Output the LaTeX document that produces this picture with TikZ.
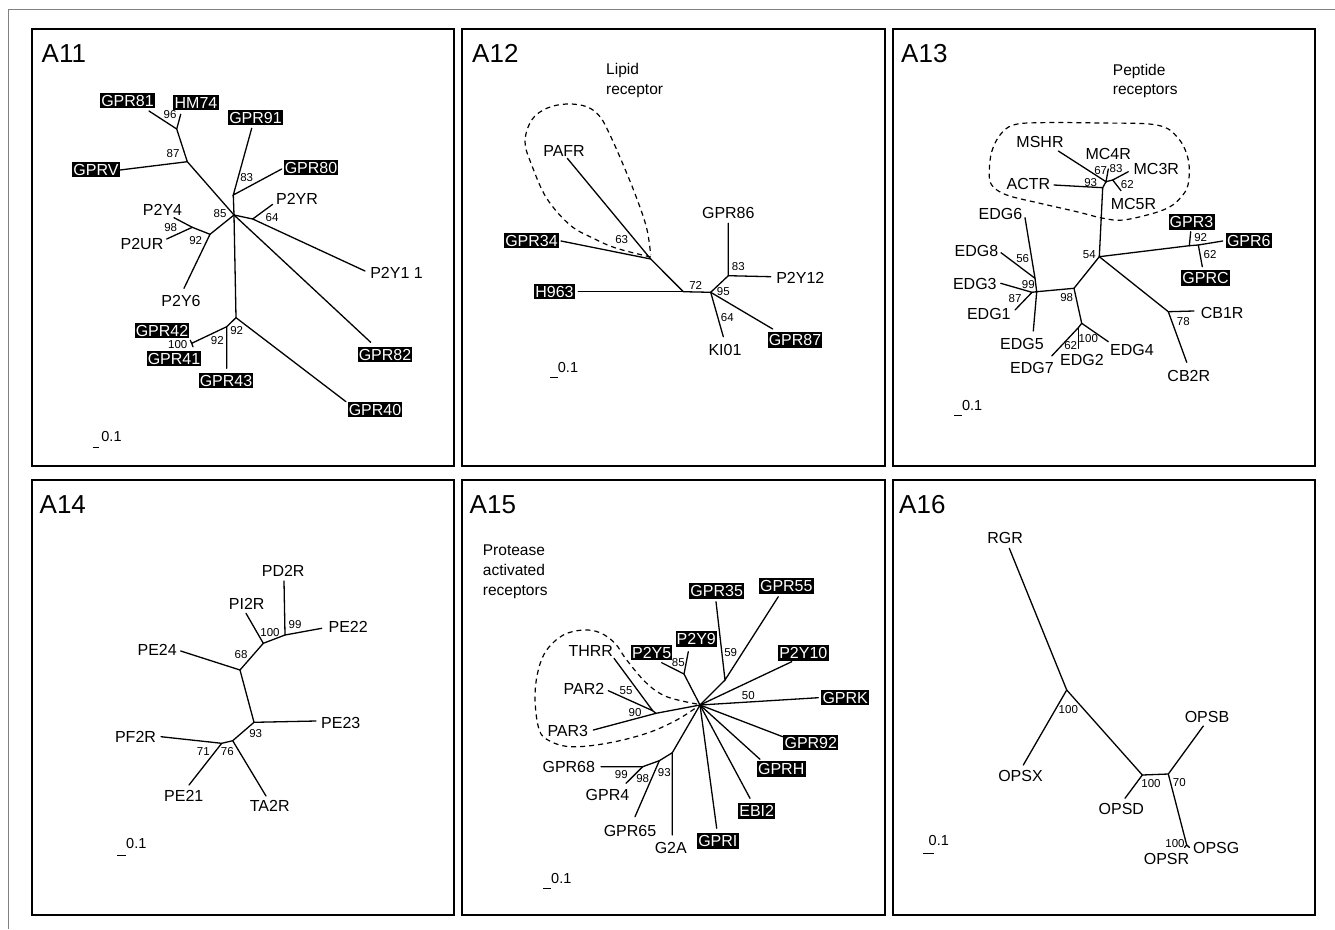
\documentclass[tikz,border=0pt]{standalone}
\usepackage{fontspec}
\setmainfont{Liberation Sans}
\tikzset{
  branch/.style={line width=1.3pt, line cap=round},
  leaf/.style={font=\fontsize{16}{18}\selectfont, inner sep=0pt},
  hilite/.style={font=\fontsize{16}{18}\selectfont, fill=black, text=white, inner xsep=1.2pt, inner ysep=0pt, minimum height=15.5pt},
  boot/.style={font=\fontsize{11.5}{13}\selectfont, inner sep=0pt},
  panel/.style={line width=1.8pt},
  panelname/.style={font=\fontsize{26}{30}\selectfont, anchor=base west, inner sep=0pt},
  group/.style={line width=1.2pt, dash pattern=on 5pt off 4pt},
  grouplabel/.style={font=\fontsize{15.5}{17}\selectfont, anchor=base west, inner sep=0pt, align=left},
  scalebar/.style={line width=1.3pt},
  scalelabel/.style={font=\fontsize{14.5}{16}\selectfont, inner sep=0pt}
}

\begin{document}
\begin{tikzpicture}[x=1pt,y=-1pt]
  \useasboundingbox (0,0) rectangle (1335,929);

  % Draw the outer frame and the six panels
  \draw[gray, line width=1.2pt] (1335,9.3) -- (8.7,9.3) -- (8.7,929);
  \draw[panel] (32,29) rectangle (454,466);
  \draw[panel] (462,29) rectangle (885,466);
  \draw[panel] (893,29) rectangle (1315,466);
  \draw[panel] (32,480) rectangle (454,915);
  \draw[panel] (462,480) rectangle (885,915);
  \draw[panel] (893,480) rectangle (1315,915);

  \node[panelname] (A11) at (41.5,62) {A11};
  \node[panelname] (A12) at (472,62) {A12};
  \node[panelname] (A13) at (901,62) {A13};
  \node[panelname] (A14) at (39.5,513.5) {A14};
  \node[panelname] (A15) at (469.5,513.5) {A15};
  \node[panelname] (A16) at (899,513.5) {A16};

  % ---------------- A11 ----------------
  \coordinate (a11hub) at (234,215);
  \coordinate (a11n87) at (187.3,161.7);
  \coordinate (a11n96) at (176.7,129);
  \coordinate (a11n83) at (233.3,195);
  \coordinate (a11n64) at (252.7,219);
  \coordinate (a11n92a) at (210,234.3);
  \coordinate (a11n98) at (192.3,227.3);
  \coordinate (a11n92b) at (236,317.7);
  \coordinate (a11n92c) at (226.7,326.7);
  \coordinate (a11n100) at (191.7,343.3);
  \coordinate (tGPRV) at (120,170);
  \coordinate (tGPR81) at (149,111);
  \coordinate (tHM74) at (180.7,114.3);
  \coordinate (tGPR91) at (251.7,128.3);
  \coordinate (tGPR80) at (281.7,169);
  \coordinate (tP2YR) at (272.7,204.3);
  \coordinate (tP2Y11) at (365,271);
  \coordinate (tGPR82) at (370.7,342.3);
  \coordinate (tP2Y6) at (184,288.3);
  \coordinate (tP2Y4) at (174,217.7);
  \coordinate (tP2UR) at (166.7,239);
  \coordinate (tGPR40) at (346,401.7);
  \coordinate (tGPR43) at (226.7,368.3);
  \coordinate (tGPR42) at (190.3,340.3);
  \coordinate (tGPR41) at (193,346.8);

  \draw[branch] (tGPRV) -- (a11n87) -- (a11hub);
  \draw[branch] (a11n87) -- (a11n96) -- (tGPR81);
  \draw[branch] (a11n96) -- (tHM74);
  \draw[branch] (tGPR91) -- (a11n83) -- (tGPR80);
  \draw[branch] (a11n83) -- (a11hub) -- (a11n64) -- (tP2YR);
  \draw[branch] (a11n64) -- (tP2Y11);
  \draw[branch] (a11hub) -- (tGPR82);
  \draw[branch] (a11hub) -- (a11n92a) -- (tP2Y6);
  \draw[branch] (a11n92a) -- (a11n98) -- (tP2Y4);
  \draw[branch] (a11n98) -- (tP2UR);
  \draw[branch] (a11hub) -- (a11n92b) -- (tGPR40);
  \draw[branch] (a11n92b) -- (a11n92c) -- (tGPR43);
  \draw[branch] (a11n92c) -- (a11n100) -- (tGPR42);
  \draw[branch] (a11n100) -- (tGPR41);

  \node[hilite] (GPR81) at (127.5,100.5) {GPR81};
  \node[hilite] (HM74) at (196,102.5) {HM74};
  \node[hilite] (GPR91) at (255.5,117.5) {GPR91};
  \node[hilite] (GPRV) at (96,169.5) {GPRV};
  \node[hilite] (GPR80) at (311,167.5) {GPR80};
  \node[leaf] (P2YR) at (297,199) {P2YR};
  \node[leaf] (P2Y4) at (162.5,210) {P2Y4};
  \node[leaf] (P2UR) at (142,244) {P2UR};
  \node[leaf] (P2Y6) at (181,301) {P2Y6};
  \node[leaf] (P2Y11) at (396.5,273) {P2Y1 1};
  \node[hilite] (GPR42) at (162,330.5) {GPR42};
  \node[hilite] (GPR41) at (174,358.5) {GPR41};
  \node[hilite] (GPR43) at (226,380.5) {GPR43};
  \node[hilite] (GPR82) at (385,354.5) {GPR82};
  \node[hilite] (GPR40) at (375,409.5) {GPR40};

  \node[boot] at (170,115) {96};
  \node[boot] at (173,154) {87};
  \node[boot] at (246.7,178) {83};
  \node[boot] at (220,213.3) {85};
  \node[boot] at (272,217.7) {64};
  \node[boot] at (170.7,227.3) {98};
  \node[boot] at (195.7,240.7) {92};
  \node[boot] at (236.7,331) {92};
  \node[boot] at (217.3,341) {92};
  \node[boot] at (177.7,345) {100};

  \draw[scalebar] (92.7,447.7) -- (99.3,447.7);
  \node[scalelabel] at (111.5,437) {0.1};

  % ---------------- A12 ----------------
  \coordinate (a12n63) at (650.7,259);
  \coordinate (a12n72) at (683.3,291.7);
  \coordinate (a12n95) at (710.7,292.3);
  \coordinate (a12n83) at (728.3,275.7);
  \coordinate (tPAFR) at (567.3,158.3);
  \coordinate (tGPR34) at (561,241);
  \coordinate (tH963) at (578.3,291.7);
  \coordinate (tGPR86) at (728.3,223.3);
  \coordinate (tP2Y12) at (770.7,276.7);
  \coordinate (tKI01) at (723.3,336.7);
  \coordinate (tGPR87) at (772.7,329);

  \draw[branch] (tPAFR) -- (a12n63) -- (a12n72) -- (a12n95) -- (a12n83) -- (tGPR86);
  \draw[branch] (tGPR34) -- (a12n63);
  \draw[branch] (tH963) -- (a12n72);
  \draw[branch] (a12n83) -- (tP2Y12);
  \draw[branch] (a12n95) -- (tKI01);
  \draw[branch] (a12n95) -- (tGPR87);

  \node[leaf] (PAFR) at (564,151) {PAFR};
  \node[hilite] (GPR34) at (531.5,240.5) {GPR34};
  \node[hilite] (H963) at (554.5,291.5) {H963};
  \node[leaf] (GPR86) at (728.3,212.5) {GPR86};
  \node[leaf] (P2Y12) at (800.3,277.5) {P2Y12};
  \node[leaf] (KI01) at (725,349.5) {KI01};
  \node[hilite] (GPR87) at (795,340) {GPR87};

  \node[boot] at (621.7,239.3) {63};
  \node[boot] at (695.7,285) {72};
  \node[boot] at (723.3,291.7) {95};
  \node[boot] at (738.3,266.7) {83};
  \node[boot] at (727.3,317.7) {64};

  % lipid receptor group
  \draw[group] plot[smooth, tension=0.6] coordinates {(650.7,257) (616.7,248.3) (593.3,238.3) (570,225) (546.7,198.3) (531.7,165) (525,141.7) (531.7,120) (546.7,108.3) (566.7,104) (586.7,106.7) (600,116.7) (610,135) (623.3,165) (636.7,198.3) (646.7,228.3) (650.7,255)};
  \node[grouplabel] (lipid) at (606,94.5) {Lipid\\[3pt]receptor};

  \draw[scalebar] (550,377.3) -- (558,377.3);
  \node[scalelabel] at (568,368) {0.1};

  % ---------------- A13 ----------------
  \coordinate (a13n67) at (1106,181.7);
  \coordinate (a13n62) at (1112.7,180);
  \coordinate (a13n93) at (1102.7,187.7);
  \coordinate (a13n54) at (1099.3,256.7);
  \coordinate (a13n92) at (1189.3,245.7);
  \coordinate (a13n62b) at (1198.3,245);
  \coordinate (a13n78) at (1168.3,311.7);
  \coordinate (a13n98) at (1074,288.3);
  \coordinate (a13n56) at (1035,278.3);
  \coordinate (a13n87) at (1032,292.3);
  \coordinate (a13n99) at (1036.7,291.7);
  \coordinate (a13n100) at (1081.7,323.3);
  \coordinate (a13n62c) at (1078.3,327.7);
  \coordinate (tMSHR) at (1058.3,151);
  \coordinate (tACTR) at (1054,185);
  \coordinate (tMC4R) at (1108.3,169);
  \coordinate (tMC3R) at (1128.3,171.7);
  \coordinate (tMC5R) at (1121,190.7);
  \coordinate (tGPR3) at (1190.7,231.7);
  \coordinate (tGPR6) at (1222.7,241);
  \coordinate (tGPRC) at (1202.3,266.7);
  \coordinate (tCB1R) at (1194,311);
  \coordinate (tCB2R) at (1186.7,362.3);
  \coordinate (tEDG6) at (1025,217.7);
  \coordinate (tEDG8) at (1001,252.7);
  \coordinate (tEDG3) at (1000.7,283.3);
  \coordinate (tEDG1) at (1015,310);
  \coordinate (tEDG5) at (1033.3,331);
  \coordinate (tEDG7) at (1051.7,356);
  \coordinate (tEDG2) at (1078.3,348.3);
  \coordinate (tEDG4) at (1108.3,341.7);

  \draw[branch] (tMSHR) -- (a13n67) -- (tMC4R);
  \draw[branch] (a13n67) -- (a13n62) -- (tMC3R);
  \draw[branch] (a13n62) -- (tMC5R);
  \draw[branch] (tACTR) -- (a13n93) -- (a13n67);
  \draw[branch] (a13n93) -- (a13n54) -- (a13n92) -- (tGPR3);
  \draw[branch] (a13n92) -- (a13n62b) -- (tGPR6);
  \draw[branch] (a13n62b) -- (tGPRC);
  \draw[branch] (a13n54) -- (a13n78) -- (tCB1R);
  \draw[branch] (a13n78) -- (tCB2R);
  \draw[branch] (a13n54) -- (a13n98) -- (a13n99) -- (tEDG5);
  \draw[branch] (a13n99) -- (a13n56) -- (tEDG6);
  \draw[branch] (a13n56) -- (tEDG8);
  \draw[branch] (tEDG3) -- (a13n87) -- (tEDG1);
  \draw[branch] (a13n87) -- (a13n99);
  \draw[branch] (a13n98) -- (a13n100) -- (tEDG4);
  \draw[branch] (a13n100) -- (a13n62c) -- (tEDG7);
  \draw[branch] (a13n62c) -- (tEDG2);

  \node[leaf] (MSHR) at (1040,142.2) {MSHR};
  \node[leaf] (MC4R) at (1108.2,153.5) {MC4R};
  \node[leaf] (MC3R) at (1156.3,168.5) {MC3R};
  \node[leaf] (ACTR) at (1028.5,183.5) {ACTR};
  \node[leaf] (MC5R) at (1133.5,204) {MC5R};
  \node[hilite] (GPR3) at (1191.5,222) {GPR3};
  \node[hilite] (GPR6) at (1248.8,240.5) {GPR6};
  \node[hilite] (GPRC) at (1205.5,277.8) {GPRC};
  \node[leaf] (CB1R) at (1222.2,312.5) {CB1R};
  \node[leaf] (CB2R) at (1188.8,375.5) {CB2R};
  \node[leaf] (EDG6) at (1000.5,214) {EDG6};
  \node[leaf] (EDG8) at (976.5,250.8) {EDG8};
  \node[leaf] (EDG3) at (974.8,284) {EDG3};
  \node[leaf] (EDG1) at (988.8,313.5) {EDG1};
  \node[leaf] (EDG5) at (1022,344) {EDG5};
  \node[leaf] (EDG7) at (1032,368) {EDG7};
  \node[leaf] (EDG2) at (1082,360) {EDG2};
  \node[leaf] (EDG4) at (1132,350) {EDG4};

  \node[boot] at (1100.7,170.7) {67};
  \node[boot] at (1116,169) {83};
  \node[boot] at (1127.3,184.3) {62};
  \node[boot] at (1090.7,182.3) {93};
  \node[boot] at (1089.3,254.3) {54};
  \node[boot] at (1200.7,237.3) {92};
  \node[boot] at (1210,255) {62};
  \node[boot] at (1183.3,321.7) {78};
  \node[boot] at (1066.7,297.3) {98};
  \node[boot] at (1022.7,258.3) {56};
  \node[boot] at (1028.3,285) {99};
  \node[boot] at (1015,298.3) {87};
  \node[boot] at (1088.3,339) {100};
  \node[boot] at (1070.7,346) {62};

  % peptide receptor group
  \draw[group] plot[smooth cycle, tension=0.6] coordinates {(989.3,171.7) (991.7,151.7) (1000,135) (1013.3,125) (1040,122.7) (1100,123) (1156.7,125) (1178,138) (1188.3,160) (1188,185) (1180,198.3) (1170,206.7) (1153.3,213.3) (1123.3,220) (1103.3,218.3) (1076.7,211.7) (1040,203.3) (1006.7,195) (991.7,185)};
  \node[grouplabel] (peptide) at (1112.7,94) {Peptide\\[2pt]receptors};

  \draw[scalebar] (954,415.7) -- (961.7,415.7);
  \node[scalelabel] at (972.2,406) {0.1};

  % ---------------- A14 ----------------
  \coordinate (a14n99) at (285,635);
  \coordinate (a14n100) at (263.3,643.3);
  \coordinate (a14n68) at (240,670);
  \coordinate (a14n93) at (254,722.3);
  \coordinate (a14n76) at (232.7,740.7);
  \coordinate (a14n71) at (221.7,743.3);
  \coordinate (tPD2R) at (284,581);
  \coordinate (tPE22) at (321.7,628.3);
  \coordinate (tPI2R) at (246,613.3);
  \coordinate (tPE24) at (180.7,651);
  \coordinate (tPE23) at (316,721);
  \coordinate (tTA2R) at (266,796);
  \coordinate (tPF2R) at (161,736.7);
  \coordinate (tPE21) at (189,785);

  \draw[branch] (tPD2R) -- (a14n99) -- (tPE22);
  \draw[branch] (a14n99) -- (a14n100) -- (tPI2R);
  \draw[branch] (a14n100) -- (a14n68) -- (tPE24);
  \draw[branch] (a14n68) -- (a14n93) -- (tPE23);
  \draw[branch] (a14n93) -- (a14n76) -- (tTA2R);
  \draw[branch] (a14n76) -- (a14n71) -- (tPF2R);
  \draw[branch] (a14n71) -- (tPE21);

  \node[leaf] (PD2R) at (283.2,571.2) {PD2R};
  \node[leaf] (PI2R) at (246.7,603.8) {PI2R};
  \node[leaf] (PE22) at (348.2,626.5) {PE22};
  \node[leaf] (PE24) at (157.2,649.8) {PE24};
  \node[leaf] (PE23) at (340.8,722.5) {PE23};
  \node[leaf] (PF2R) at (135.5,737.2) {PF2R};
  \node[leaf] (PE21) at (183.8,795.5) {PE21};
  \node[leaf] (TA2R) at (269.7,805.8) {TA2R};

  \node[boot] at (295,624.3) {99};
  \node[boot] at (270,632.3) {100};
  \node[boot] at (241,655) {68};
  \node[boot] at (255.7,733.3) {93};
  \node[boot] at (203.3,751.7) {71};
  \node[boot] at (227.3,751.7) {76};

  \draw[scalebar] (117.3,855.7) -- (126,855.7);
  \node[scalelabel] at (136.3,843.5) {0.1};

  % ---------------- A15 ----------------
  \coordinate (a15hub) at (700,705);
  \coordinate (a15n59) at (725,680);
  \coordinate (a15n85) at (684,674);
  \coordinate (a15n90) at (656,713.3);
  \coordinate (a15n55) at (652.7,710.7);
  \coordinate (a15n93) at (672.3,752.7);
  \coordinate (a15n98) at (659.3,760.7);
  \coordinate (a15n99) at (642.7,766.7);
  \coordinate (tGPR35) at (716,601.7);
  \coordinate (tGPR55) at (778.3,596.7);
  \coordinate (tP2Y9) at (688.3,651.7);
  \coordinate (tP2Y5) at (661.7,662.7);
  \coordinate (tP2Y10) at (791.7,661.7);
  \coordinate (tGPRK) at (818.3,697.7);
  \coordinate (tGPR92) at (782.7,736.7);
  \coordinate (tGPRH) at (760,759.3);
  \coordinate (tEBI2) at (750,798.3);
  \coordinate (tGPRI) at (716.7,828.3);
  \coordinate (tTHRR) at (614,658.3);
  \coordinate (tPAR2) at (608.3,690.7);
  \coordinate (tPAR3) at (593.3,730);
  \coordinate (tGPR68) at (601,766.7);
  \coordinate (tGPR4) at (626,783.3);
  \coordinate (tGPR65) at (635,816.7);
  \coordinate (tG2A) at (672.3,835);

  \draw[branch] (tGPR35) -- (a15n59) -- (tGPR55);
  \draw[branch] (a15n59) -- (a15hub) -- (a15n85) -- (tP2Y9);
  \draw[branch] (a15n85) -- (tP2Y5);
  \draw[branch] (a15hub) -- (tP2Y10);
  \draw[branch] (a15hub) -- (tGPRK);
  \draw[branch] (a15hub) -- (tGPR92);
  \draw[branch] (a15hub) -- (tGPRH);
  \draw[branch] (a15hub) -- (tEBI2);
  \draw[branch] (a15hub) -- (tGPRI);
  \draw[branch] (a15hub) -- (a15n90) -- (tPAR3);
  \draw[branch] (a15n90) -- (a15n55) -- (tTHRR);
  \draw[branch] (a15n55) -- (tPAR2);
  \draw[branch] (a15hub) -- (a15n93) -- (tG2A);
  \draw[branch] (a15n93) -- (a15n98) -- (tGPR65);
  \draw[branch] (a15n98) -- (a15n99) -- (tGPR68);
  \draw[branch] (a15n99) -- (tGPR4);

  \node[hilite] (GPR35) at (716.7,590.8) {GPR35};
  \node[hilite] (GPR55) at (786.3,585.8) {GPR55};
  \node[hilite] (P2Y9) at (696.3,639.2) {P2Y9};
  \node[hilite] (P2Y5) at (651.7,652.5) {P2Y5};
  \node[hilite] (P2Y10) at (803.3,652.8) {P2Y10};
  \node[hilite] (GPRK) at (845.2,697.5) {GPRK};
  \node[hilite] (GPR92) at (810.8,742.5) {GPR92};
  \node[hilite] (GPRH) at (781.2,769.2) {GPRH};
  \node[hilite] (EBI2) at (756.7,810.8) {EBI2};
  \node[hilite] (GPRI) at (717.8,840.8) {GPRI};
  \node[leaf] (THRR) at (590.8,650.8) {THRR};
  \node[leaf] (PAR2) at (584,689.2) {PAR2};
  \node[leaf] (PAR3) at (567.8,730.8) {PAR3};
  \node[leaf] (GPR68) at (568.8,766.7) {GPR68};
  \node[leaf] (GPR4) at (607.5,794.5) {GPR4};
  \node[leaf] (GPR65) at (630,830.8) {GPR65};
  \node[leaf] (G2A) at (670.8,848.3) {G2A};

  \node[boot] at (730.7,652.7) {59};
  \node[boot] at (678.3,662.7) {85};
  \node[boot] at (748.3,696) {50};
  \node[boot] at (626,690.7) {55};
  \node[boot] at (635,712.3) {90};
  \node[boot] at (664.3,772.7) {93};
  \node[boot] at (642.7,778.3) {98};
  \node[boot] at (621.3,775) {99};

  % protease activated receptor group
  \draw[group] plot[smooth, tension=0.6] coordinates {(697,704) (666.7,696.7) (646.7,683.3) (626.7,660) (615,643.3) (600,632.7) (583.3,630) (563.3,635) (546.7,650) (538.3,670) (535,696.7) (538.3,726.7) (546.7,739.3) (570,746.7) (606.7,743.3) (646.7,733.3) (676.7,720) (697,707)};
  \node[grouplabel] (protease) at (482.7,595) {Protease\\[3pt]activated\\[3pt]receptors};

  \draw[scalebar] (543.3,888.3) -- (550.7,888.3);
  \node[scalelabel] at (561.3,878.8) {0.1};

  % ---------------- A16 ----------------
  \coordinate (a16n100a) at (1066.7,690);
  \coordinate (a16n100b) at (1142.3,775);
  \coordinate (a16n70) at (1168.3,774);
  \coordinate (a16n100c) at (1186.7,845);
  \coordinate (tRGR) at (1009.3,548.3);
  \coordinate (tOPSX) at (1023.3,765);
  \coordinate (tOPSD) at (1125,798.3);
  \coordinate (tOPSB) at (1203.3,726);
  \coordinate (tOPSR) at (1184.5,847.5);
  \coordinate (tOPSG) at (1189.5,847.5);

  \draw[branch] (tRGR) -- (a16n100a) -- (tOPSX);
  \draw[branch] (a16n100a) -- (a16n100b) -- (tOPSD);
  \draw[branch] (a16n100b) -- (a16n70) -- (tOPSB);
  \draw[branch] (a16n70) -- (a16n100c) -- (tOPSR);
  \draw[branch] (a16n100c) -- (tOPSG);

  \node[leaf] (RGR) at (1005.2,537.5) {RGR};
  \node[leaf] (OPSX) at (1020.5,776.2) {OPSX};
  \node[leaf] (OPSD) at (1121.3,809.2) {OPSD};
  \node[leaf] (OPSB) at (1207,717.2) {OPSB};
  \node[leaf] (OPSG) at (1216.2,848.3) {OPSG};
  \node[leaf] (OPSR) at (1166.5,858.5) {OPSR};

  \node[boot] at (1068.3,709.3) {100};
  \node[boot] at (1151,783.3) {100};
  \node[boot] at (1179.3,782.7) {70};
  \node[boot] at (1175,844) {100};

  \draw[scalebar] (923.3,853.3) -- (934,853.3);
  \node[scalelabel] at (938.8,840.8) {0.1};
\end{tikzpicture}
\end{document}
